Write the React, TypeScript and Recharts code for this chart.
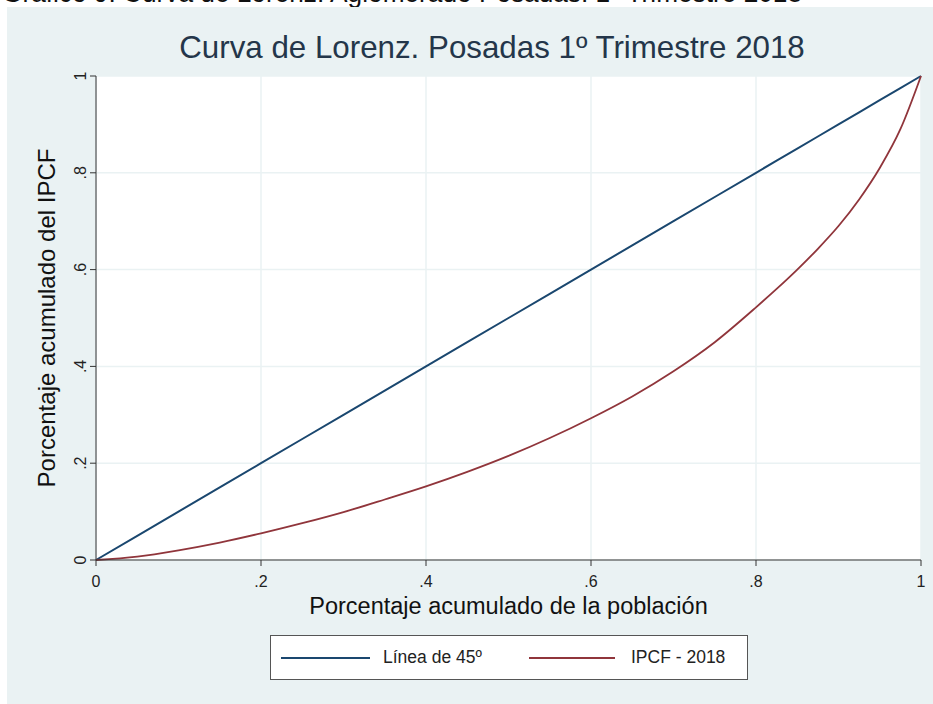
import React from "react";
import { LineChart, Line, XAxis, YAxis, CartesianGrid } from "recharts";

const popShare = [0, 0.05, 0.1, 0.15, 0.2, 0.25, 0.3, 0.35, 0.4, 0.45, 0.5, 0.55, 0.6, 0.65, 0.7, 0.75, 0.8, 0.825, 0.85, 0.875, 0.9, 0.925, 0.95, 0.975, 1];
const diagShare = [0, 0.05, 0.1, 0.15, 0.2, 0.25, 0.3, 0.35, 0.4, 0.45, 0.5, 0.55, 0.6, 0.65, 0.7, 0.75, 0.8, 0.825, 0.85, 0.875, 0.9, 0.925, 0.95, 0.975, 1];
const ipcfShare = [0, 0.007, 0.02, 0.036, 0.055, 0.076, 0.099, 0.125, 0.152, 0.182, 0.215, 0.252, 0.293, 0.338, 0.39, 0.45, 0.522, 0.56, 0.6, 0.643, 0.69, 0.745, 0.81, 0.89, 1];
const axisTicks = [0, 0.2, 0.4, 0.6, 0.8, 1];
const tickLabels = ["0", ".2", ".4", ".6", ".8", "1"];

const data = popShare.map((p, i) => ({ p, diag: diagShare[i], ipcf: ipcfShare[i] }));

const BLUE = "#1a476f";
const RED = "#90353b";
const PANEL = "#eaf2f3";
const FONT = "'Liberation Sans', Arial, sans-serif";

const label = (v: number) => tickLabels[axisTicks.indexOf(v)] ?? String(v);

const XTick = (props: any) => {
  const { x, payload } = props;
  return (
    <text x={x} y={587} textAnchor="middle" fontSize={16} fontFamily={FONT} fill="#222">
      {label(payload.value)}
    </text>
  );
};

const YTick = (props: any) => {
  const { y, payload } = props;
  const bx = 86;
  return (
    <text x={bx} y={y} transform={`rotate(-90, ${bx}, ${y})`} textAnchor="middle" fontSize={16} fontFamily={FONT} fill="#222">
      {label(payload.value)}
    </text>
  );
};

export default function App() {
  return (
    <div style={{ position: "absolute", left: 0, top: 0, width: 933, height: 704, background: "#fff", overflow: "hidden", fontFamily: FONT }}>
      <svg style={{ position: "absolute", left: 0, top: 0 }} width={933} height={7}>
        <text x={2} y={2} fontSize={28} fontFamily={FONT} fill="#111" textLength={800} lengthAdjust="spacingAndGlyphs">
          Gráfico 9. Curva de Lorenz. Aglomerado Posadas. 1º Trimestre 2018
        </text>
      </svg>
      <div style={{ position: "absolute", left: 7, top: 7, width: 926, height: 697, background: PANEL }} />
      <div style={{ position: "absolute", left: 0, top: 28, width: 933, textAlign: "center", paddingLeft: 51, boxSizing: "border-box", fontSize: 31.3, color: "#24364a", lineHeight: "39px" }}>
        Curva de Lorenz. Posadas 1º Trimestre 2018
      </div>
      <div style={{ position: "absolute", left: 0, top: 0 }}>
        <LineChart data={data} width={933} height={704} margin={{ top: 76, right: 12, bottom: 0, left: 0 }}>
          <CartesianGrid fill="#ffffff" stroke={PANEL} strokeWidth={1.5} />
          <XAxis
            dataKey="p"
            type="number"
            domain={[0, 1]}
            ticks={axisTicks}
            height={144}
            stroke="#333"
            tickSize={6}
            tick={<XTick />}
            label={{ value: "Porcentaje acumulado de la población", position: "insideTop", offset: 37, fontSize: 23.5, fill: "#111", fontFamily: FONT }}
          />
          <YAxis
            type="number"
            domain={[0, 1]}
            ticks={axisTicks}
            width={96}
            stroke="#333"
            tickSize={6}
            tick={<YTick />}
            label={{ value: "Porcentaje acumulado del IPCF", angle: -90, position: "insideLeft", offset: 46, fontSize: 24, fill: "#111", fontFamily: FONT, style: { textAnchor: "middle" } }}
          />
          <Line dataKey="diag" type="linear" stroke={BLUE} strokeWidth={2} dot={false} isAnimationActive={false} />
          <Line dataKey="ipcf" type="monotone" stroke={RED} strokeWidth={1.8} dot={false} isAnimationActive={false} />
        </LineChart>
      </div>
      <div style={{ position: "absolute", left: 270, top: 635, width: 476, height: 43, background: "#fff", border: "1px solid #555" }}>
        <div style={{ position: "absolute", left: 10, top: 21, width: 89, height: 2, background: BLUE }} />
        <div style={{ position: "absolute", left: 112, top: 11, fontSize: 17.5, color: "#222" }}>Línea de 45º</div>
        <div style={{ position: "absolute", left: 258, top: 21, width: 86, height: 2, background: RED }} />
        <div style={{ position: "absolute", left: 360, top: 11, fontSize: 17.5, color: "#222" }}>IPCF - 2018</div>
      </div>
    </div>
  );
}
